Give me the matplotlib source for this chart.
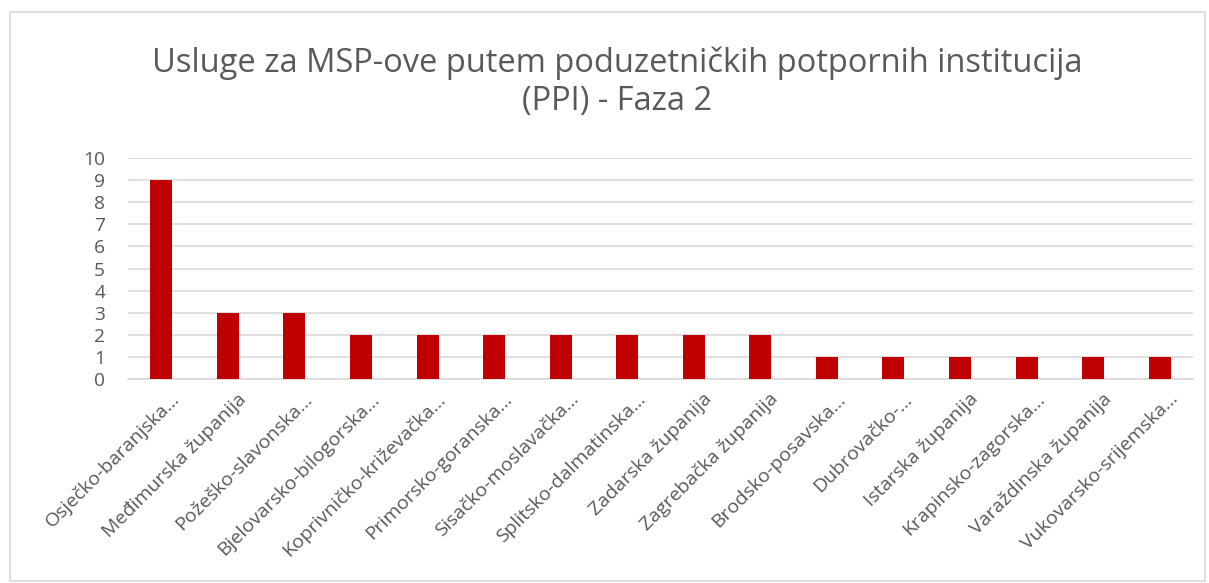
import matplotlib.pyplot as plt
from matplotlib.patches import Rectangle
from matplotlib.transforms import ScaledTranslation

plt.rcParams["font.family"] = ["Open Sans", "DejaVu Sans"]

TITLE = "Usluge za MSP-ove putem poduzetničkih potpornih institucija\n(PPI) - Faza 2"

counties = [
    "Osječko-baranjska...",
    "Međimurska županija",
    "Požeško-slavonska...",
    "Bjelovarsko-bilogorska...",
    "Koprivničko-križevačka...",
    "Primorsko-goranska...",
    "Sisačko-moslavačka...",
    "Splitsko-dalmatinska...",
    "Zadarska županija",
    "Zagrebačka županija",
    "Brodsko-posavska...",
    "Dubrovačko-...",
    "Istarska županija",
    "Krapinsko-zagorska...",
    "Varaždinska županija",
    "Vukovarsko-srijemska...",
]
services = [9, 3, 3, 2, 2, 2, 2, 2, 2, 2, 1, 1, 1, 1, 1, 1]

BAR_COLOR = "#c00000"
TEXT_COLOR = "#595959"
GRID_COLOR = "#d9d9d9"

fig = plt.figure(figsize=(12.09, 5.83), dpi=100)
# outer chart frame
fig.patches.append(Rectangle((10 / 1209, 2 / 583), 1195 / 1209, 569 / 583,
                             transform=fig.transFigure, fill=False,
                             edgecolor="#d9d9d9", linewidth=1.2))

ax = fig.add_axes([128 / 1209, 1 - 379 / 583, (1193 - 128) / 1209, (379 - 158) / 583])
x = range(len(counties))
ax.bar(x, services, width=0.33, color=BAR_COLOR, zorder=3)

ax.set_xlim(-0.5, len(counties) - 0.5)
ax.set_ylim(0, 10)
ax.set_yticks(range(0, 11))
ax.yaxis.grid(True, color=GRID_COLOR, linewidth=1.2, zorder=0)
ax.set_xticks(list(x))
ax.set_xticklabels(counties, rotation=45, ha="right", rotation_mode="anchor",
                   fontsize=14, color=TEXT_COLOR)
ax.tick_params(axis="y", length=0, labelsize=13.8, labelcolor=TEXT_COLOR, pad=16.5)
ax.tick_params(axis="x", length=0, pad=8)

# nudge the slanted labels a little to the right of their ticks
shift = ScaledTranslation(9 / 100, 0, fig.dpi_scale_trans)
for lbl in ax.get_xticklabels():
    lbl.set_transform(lbl.get_transform() + shift)

for side in ["top", "right", "left"]:
    ax.spines[side].set_visible(False)
ax.spines["bottom"].set_color(GRID_COLOR)
ax.spines["bottom"].set_linewidth(1.2)

fig.text(617 / 1209, 1 - 82 / 583, TITLE, ha="center", va="center",
         fontsize=23.5, color=TEXT_COLOR, linespacing=1.2)

fig.savefig("out.png", dpi=100)
